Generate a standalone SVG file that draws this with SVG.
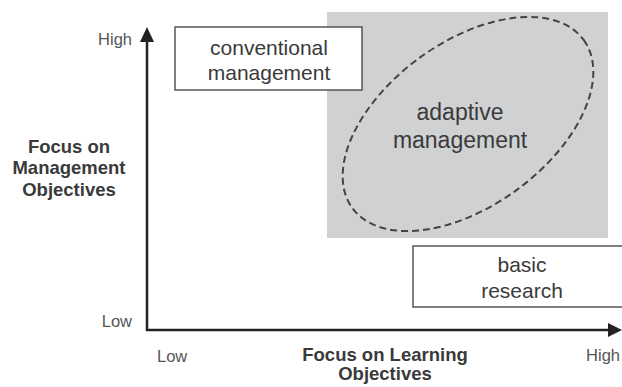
<svg xmlns="http://www.w3.org/2000/svg" width="622" height="387" viewBox="0 0 622 387">
<style>
  .t { font-family: "Liberation Sans", Arial, sans-serif; fill: #3a3a3a; }
  .lbl { font-size: 16.5px; fill: #555; }
  .ttl { font-size: 18.5px; font-weight: bold; text-anchor: middle; }
  .box { fill: #ffffff; stroke: #555; stroke-width: 1.5; }
  .axis { stroke: #222; stroke-width: 2.5; fill: none; }
  .head { fill: #222; }
  .nt { font-size: 21px; text-anchor: middle; }
</style>
<rect id="region" x="327" y="12" width="281" height="226" fill="#d0d1d3"/>
<g id="axes">
  <line class="axis" x1="147" y1="331" x2="147" y2="40"/>
  <polygon class="head" points="147,27 140,42 154,42"/>
  <line class="axis" x1="146" y1="330" x2="610" y2="330"/>
  <polygon class="head" points="622,330 608,323 608,337"/>
</g>
<g id="conventional">
  <rect class="box" x="175" y="27" width="187" height="63"/>
  <text class="t nt" x="269" y="55">conventional</text>
  <text class="t nt" x="269" y="80">management</text>
</g>
<g id="adaptive">
  <ellipse cx="468" cy="124" rx="143" ry="82" transform="rotate(-36 468 124)" fill="none" stroke="#444" stroke-width="2" stroke-dasharray="7 4"/>
  <text class="t nt" x="460" y="120" style="font-size:23px">adaptive</text>
  <text class="t nt" x="460" y="148" style="font-size:23px">management</text>
</g>
<g id="basic">
  <rect class="box" x="413" y="246" width="215" height="61"/>
  <text class="t nt" x="522" y="272">basic</text>
  <text class="t nt" x="522" y="298">research</text>
</g>
<g id="labels">
  <text class="t lbl" x="132" y="45" text-anchor="end">High</text>
  <text class="t lbl" x="132" y="327" text-anchor="end">Low</text>
  <text class="t lbl" x="157" y="362">Low</text>
  <text class="t lbl" x="620" y="361" text-anchor="end">High</text>
  <text class="t ttl" x="69" y="153">Focus on</text>
  <text class="t ttl" x="69" y="174">Management</text>
  <text class="t ttl" x="69" y="196">Objectives</text>
  <text class="t ttl" x="385" y="361">Focus on Learning</text>
  <text class="t ttl" x="385" y="380">Objectives</text>
</g>
</svg>
